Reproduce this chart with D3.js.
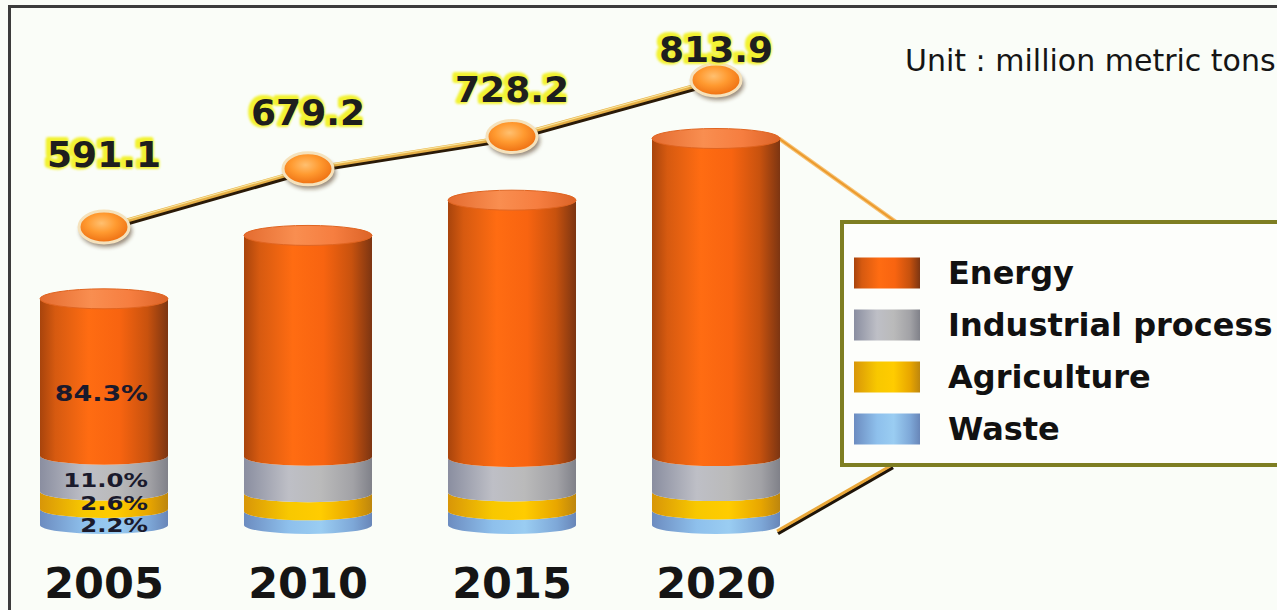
<!DOCTYPE html>
<html>
<head>
<meta charset="utf-8">
<script src="https://cdn.jsdelivr.net/npm/d3@7/dist/d3.min.js"></script>
<style>
  html, body { margin: 0; padding: 0; background: #fafdf8; }
  svg { display: block; }
</style>
</head>
<body>
<svg id="chart" width="1277" height="610"></svg>
<script>
// ---- data -------------------------------------------------------------
const years = ["2005", "2010", "2015", "2020"];
const totals = [591.1, 679.2, 728.2, 813.9];               // million metric tons
const sectors = ["Energy", "Industrial process", "Agriculture", "Waste"];
const energyPct = [84.3, 84.2, 85.2, 84.8];
const industrialPct = [11.0, 11.4, 10.2, 10.5];
const agriculturePct = [2.6, 2.8, 2.9, 2.9];
const wastePct = [2.2, 1.6, 1.7, 1.8];
const labelledYear = "2005";                               // year whose shares are printed
const unitLabel = "Unit : million metric tons";

// ---- setup ------------------------------------------------------------
const W = 1277, H = 610;
const svg = d3.select("#chart");
const defs = svg.append("defs");
const gid = s => "g-" + s.replace(/\s+/g, "-").toLowerCase();

function hGrad(id, stops) {
  const g = defs.append("linearGradient").attr("id", id)
    .attr("x1", "0%").attr("x2", "100%").attr("y1", "0%").attr("y2", "0%");
  stops.forEach(([o, c]) => g.append("stop").attr("offset", o).attr("stop-color", c));
}
hGrad(gid("Energy"), [[0, "#a8440c"], [0.12, "#d65a10"], [0.38, "#ff6c12"], [0.62, "#f86410"], [0.84, "#c8520e"], [1, "#7c3512"]]);
hGrad(gid("Industrial process"), [[0, "#8a8ea0"], [0.35, "#bebfc6"], [0.6, "#bababa"], [0.85, "#a2a2a6"], [1, "#808189"]]);
hGrad(gid("Agriculture"), [[0, "#d89608"], [0.35, "#f8c800"], [0.6, "#ffcc00"], [0.85, "#e8a600"], [1, "#bd860e"]]);
hGrad(gid("Waste"), [[0, "#6c8cc0"], [0.35, "#8ec0ec"], [0.6, "#9acdf2"], [0.85, "#7ea8d8"], [1, "#6886b8"]]);
hGrad("g-cap", [[0, "#e46c30"], [0.4, "#f98e50"], [0.7, "#f67e40"], [1, "#dc6428"]]);

const dotGrad = defs.append("radialGradient").attr("id", "g-dot")
  .attr("cx", "45%").attr("cy", "38%").attr("r", "65%");
[[0, "#ffc070"], [0.45, "#ff9a30"], [1, "#ec6a0e"]].forEach(([o, c]) =>
  dotGrad.append("stop").attr("offset", o).attr("stop-color", c));

const blur = defs.append("filter").attr("id", "f-blur")
  .attr("x", "-30%").attr("y", "-30%").attr("width", "160%").attr("height", "160%");
blur.append("feGaussianBlur").attr("stdDeviation", 2);
const glow = defs.append("filter").attr("id", "f-glow")
  .attr("x", "-20%").attr("y", "-40%").attr("width", "140%").attr("height", "180%");
glow.append("feGaussianBlur").attr("stdDeviation", 1.3);

// background and frame
svg.append("rect").attr("width", W).attr("height", H).attr("fill", "#fafdf8");
svg.append("rect").attr("x", 9.5).attr("y", 6.5).attr("width", 1400).attr("height", 800)
  .attr("fill", "none").attr("stroke", "#3c3c3c").attr("stroke-width", 3);

// ---- scales -----------------------------------------------------------
const x = d3.scalePoint().domain(years).range([104, 716]);
const yBar = d3.scaleLinear().domain([276.8, 813.9]).range([525, 138.5]);
const yDot = d3.scaleLinear().domain([591.1, 813.9]).range([227, 80]);
const yLabel = d3.scaleLinear().domain([591.1, 813.9]).range([167, 62]);
const thick = d3.scaleSqrt().domain([0, 100]).range([0, 108]);

const barW = 128, rx = barW / 2, ry = 9;
const base = yBar(yBar.domain()[0]);

const rows = years.map((yr, i) => {
  const shares = {
    "Energy": energyPct[i], "Industrial process": industrialPct[i],
    "Agriculture": agriculturePct[i], "Waste": wastePct[i]
  };
  let cur = base;
  const segs = [];
  ["Waste", "Agriculture", "Industrial process"].forEach(s => {
    const top = cur - thick(shares[s]);
    segs.push({ sector: s, pct: shares[s], yTop: top, yBot: cur });
    cur = top;
  });
  segs.push({ sector: "Energy", pct: shares["Energy"], yTop: yBar(totals[i]), yBot: cur });
  return { year: yr, total: totals[i], segs };
});

function segPath(cx, yTop, yBot) {
  const l = cx - rx, r = cx + rx;
  return `M${l},${yTop} A${rx},${ry} 0 0 0 ${r},${yTop} L${r},${yBot} A${rx},${ry} 0 0 1 ${l},${yBot} Z`;
}

// ---- legend connector lines (behind legend box) ------------------------
const legendX = 842, legendY = 222, legendH = 243;
const cx2020 = x("2020");
const upper = [[cx2020 + rx - 1, yBar(totals[3])], [legendX + 54, legendY]];
const lower = [[cx2020 + rx - 3, base + 6], [legendX + 50, legendY + legendH]];
const line = d3.line();
svg.append("path").attr("d", line(upper)).attr("fill", "none")
  .attr("stroke", "#f6c070").attr("stroke-width", 4);
svg.append("path").attr("d", line(upper)).attr("fill", "none")
  .attr("stroke", "#ec9a2c").attr("stroke-width", 2);
svg.append("path").attr("d", line(lower)).attr("fill", "none")
  .attr("stroke", "#1e1408").attr("stroke-width", 3.5).attr("transform", "translate(1,2.5)");
svg.append("path").attr("d", line(lower)).attr("fill", "none")
  .attr("stroke", "#eaa83a").attr("stroke-width", 3);

// ---- cylinders --------------------------------------------------------
const bars = svg.append("g").selectAll("g").data(rows).join("g");
bars.selectAll("path.seg").data(d => d.segs.map(s => ({ ...s, cx: x(d.year) })))
  .join("path").attr("class", "seg")
  .attr("d", s => segPath(s.cx, s.yTop, s.yBot))
  .attr("fill", s => `url(#${gid(s.sector)})`);
bars.append("ellipse")
  .attr("cx", d => x(d.year)).attr("cy", d => yBar(d.total))
  .attr("rx", rx).attr("ry", ry + 1)
  .attr("fill", "url(#g-cap)").attr("stroke", "#e06420").attr("stroke-width", 1);

// share labels: energy inside its band, the three small shares stacked
// line by line from the foot of the cylinder
const lab = rows.find(r => r.year === labelledYear);
const lineStep = 22.5;
const minorOrder = ["Waste", "Agriculture", "Industrial process"];
const labelY = s => {
  if (s.sector === "Energy") return s.yTop + 0.6 * (s.yBot - s.yTop) + 8;
  return base + 7 - minorOrder.indexOf(s.sector) * lineStep;
};
const shareText = svg.append("g").selectAll("text").data(lab.segs).join("text")
  .attr("x", x(lab.year) + 44)
  .attr("y", labelY)
  .attr("text-anchor", "end")
  .attr("font-family", "DejaVu Sans")
  .attr("font-weight", "bold")
  .attr("font-size", s => s.sector === "Energy" ? 22 : 20)
  .attr("fill", "#1a1a2c")
  .text(s => d3.format(".1f")(s.pct) + "%");
shareText.each(function () {
  const w = this.getComputedTextLength();
  d3.select(this).attr("textLength", w * 1.22).attr("lengthAdjust", "spacingAndGlyphs");
});

// ---- total line -------------------------------------------------------
const pts = years.map((yr, i) => [x(yr), yDot(totals[i])]);
svg.append("path").attr("d", line(pts)).attr("fill", "none")
  .attr("stroke", "#2a1a08").attr("stroke-width", 4.5).attr("transform", "translate(1,2.5)");
svg.append("path").attr("d", line(pts)).attr("fill", "none")
  .attr("stroke", "#e6b048").attr("stroke-width", 4);
svg.append("path").attr("d", line(pts)).attr("fill", "none")
  .attr("stroke", "#fff2b0").attr("stroke-width", 1.2).attr("opacity", 0.8)
  .attr("transform", "translate(0,-1)");

const dots = svg.append("g").selectAll("g").data(pts).join("g");
dots.append("ellipse").attr("cx", p => p[0] + 2).attr("cy", p => p[1] + 4)
  .attr("rx", 26).attr("ry", 16).attr("fill", "#4a2e12").attr("opacity", 0.55)
  .attr("filter", "url(#f-blur)");
dots.append("ellipse").attr("cx", p => p[0]).attr("cy", p => p[1])
  .attr("rx", 25).attr("ry", 16)
  .attr("fill", "url(#g-dot)").attr("stroke", "#f5e2bc").attr("stroke-width", 3);

// value labels with yellow halo
const vals = svg.append("g").selectAll("g").data(years.map((yr, i) => ({ yr, v: totals[i] }))).join("g")
  .attr("transform", d => `translate(${x(d.yr)},${yLabel(d.v)})`)
  .attr("font-family", "DejaVu Sans").attr("font-weight", "bold")
  .attr("font-size", 36).attr("text-anchor", "middle");
vals.append("text").attr("transform", "translate(-2,-1)")
  .attr("fill", "#f2f232").attr("stroke", "#f2f232").attr("stroke-width", 6)
  .attr("stroke-linejoin", "round").attr("filter", "url(#f-glow)")
  .text(d => d3.format(".1f")(d.v));
vals.append("text").attr("fill", "#1e1e1e")
  .text(d => d3.format(".1f")(d.v));

// year labels
svg.append("g").selectAll("text").data(years).join("text")
  .attr("x", d => x(d)).attr("y", 598)
  .attr("text-anchor", "middle")
  .attr("font-family", "DejaVu Sans").attr("font-weight", "bold")
  .attr("font-size", 43).attr("fill", "#151515")
  .text(d => d);

// unit
svg.append("text").attr("x", 905).attr("y", 71)
  .attr("font-family", "DejaVu Sans").attr("font-size", 30).attr("fill", "#151515")
  .text(unitLabel);

// ---- legend -----------------------------------------------------------
svg.append("rect").attr("x", legendX).attr("y", legendY)
  .attr("width", 500).attr("height", legendH)
  .attr("fill", "#fdfefb").attr("stroke", "#7e7e22").attr("stroke-width", 4);
const ly = d3.scalePoint().domain(sectors).range([273, 429]);
const leg = svg.append("g").selectAll("g").data(sectors).join("g")
  .attr("transform", s => `translate(0,${ly(s)})`);
leg.append("rect").attr("x", 854).attr("y", -15.5).attr("width", 66).attr("height", 31)
  .attr("fill", s => `url(#${gid(s)})`);
leg.append("text").attr("x", 948).attr("y", 11)
  .attr("font-family", "DejaVu Sans").attr("font-weight", "bold")
  .attr("font-size", 32).attr("fill", "#111")
  .text(s => s);
</script>
</body>
</html>
